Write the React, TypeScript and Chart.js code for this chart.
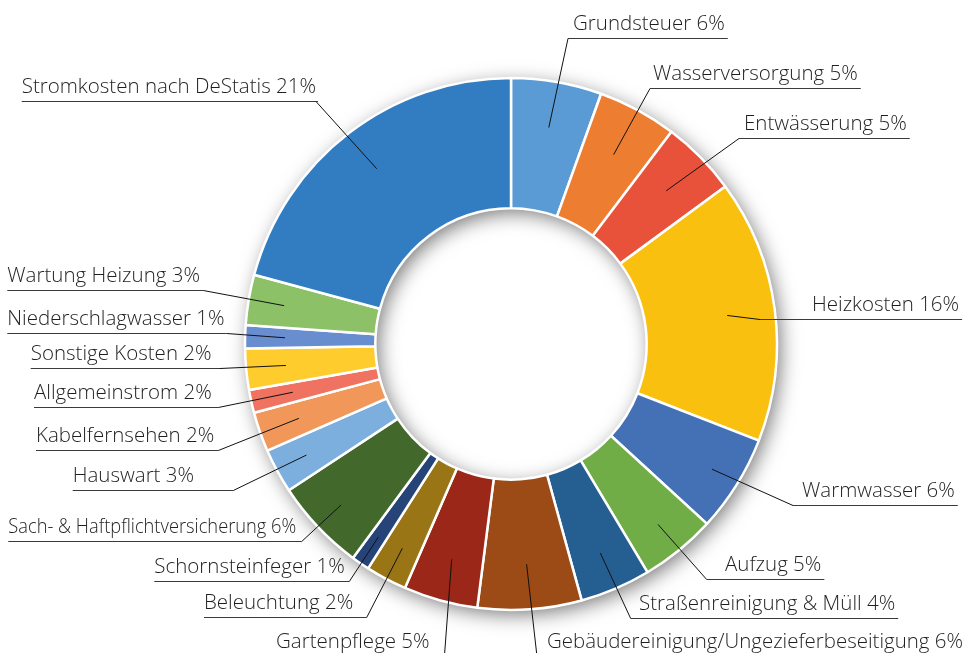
import React, { useEffect, useRef } from 'react';
import { Chart, registerables } from 'chart.js';

Chart.register(...registerables);

const categories = [
  'Grundsteuer',
  'Wasserversorgung',
  'Entwässerung',
  'Heizkosten',
  'Warmwasser',
  'Aufzug',
  'Straßenreinigung & Müll',
  'Gebäudereinigung/Ungezieferbeseitigung',
  'Gartenpflege',
  'Beleuchtung',
  'Schornsteinfeger',
  'Sach- & Haftpflichtversicherung',
  'Hauswart',
  'Kabelfernsehen',
  'Allgemeinstrom',
  'Sonstige Kosten',
  'Niederschlagwasser',
  'Wartung Heizung',
  'Stromkosten nach DeStatis',
];

const values = [5.5, 4.8, 4.6, 16.0, 5.9, 4.6, 4.3, 6.3, 4.5, 2.5, 1.1, 5.6, 2.7, 2.4, 1.4, 2.5, 1.4, 3.05, 20.8];

const percentLabels = ['6%', '5%', '5%', '16%', '6%', '5%', '4%', '6%', '5%', '2%', '1%', '6%', '3%', '2%', '2%', '2%', '1%', '3%', '21%'];

const colors = [
  '#5B9BD5', '#ED7D31', '#E9523A', '#FAC00F', '#4470B5', '#70AD47', '#255E91',
  '#9C4A16', '#9A2718', '#9A7516', '#264478', '#43682B', '#7CAFDD', '#F1975A',
  '#F07260', '#FFCC2E', '#698ED0', '#8CC168', '#327DC1',
];

// label layout: text left x, underline y, leader attach x, anchor radius fraction, max text width
const labelLayout = [
  [573, 38, 568, 0.826, 0],
  [653, 88.3, 650, 0.81, 0],
  [744, 138.3, 739, 0.82, 0],
  [812, 319.3, 760, 0.82, 0],
  [802, 505, 793, 0.89, 0],
  [725, 579.3, 706.7, 0.875, 0],
  [639, 618.3, 630.7, 0.855, 0],
  [547, 656, 537, 0.83, 416],
  [276, 656, 444.4, 0.84, 0],
  [204, 617.3, 366.7, 0.87, 0],
  [154.3, 580.7, 349.3, 0.88, 0],
  [8.3, 540.7, 301.7, 0.88, 288],
  [72.7, 490, 233.3, 0.875, 0],
  [36, 450, 218.3, 0.845, 0],
  [34, 406.7, 218.3, 0.84, 0],
  [30.7, 368.3, 220, 0.85, 0],
  [7.3, 333.3, 226.7, 0.85, 0],
  [7.3, 290, 203.3, 0.865, 0],
  [21.7, 100.7, 316, 0.83, 0],
];

const shadowPlugin = {
  id: 'ringShadow',
  beforeDatasetsDraw(chart: any) {
    const meta = chart.getDatasetMeta(0);
    const a = meta.data[0];
    if (!a) return;
    const { x, y, innerRadius, outerRadius } = a.getProps(['x', 'y', 'innerRadius', 'outerRadius'], true);
    const ctx = chart.ctx;
    ctx.save();
    ctx.shadowColor = 'rgba(0,0,0,0.55)';
    ctx.shadowBlur = 20;
    ctx.shadowOffsetX = 4;
    ctx.shadowOffsetY = 5;
    ctx.beginPath();
    ctx.arc(x, y, outerRadius - 1, 0, Math.PI * 2);
    ctx.arc(x, y, innerRadius + 1, Math.PI * 2, 0, true);
    ctx.closePath();
    ctx.fillStyle = '#ffffff';
    ctx.fill('evenodd');
    ctx.restore();
  },
};

const labelPlugin = {
  id: 'outerLabels',
  afterDatasetsDraw(chart: any) {
    const meta = chart.getDatasetMeta(0);
    const ctx = chart.ctx;
    ctx.save();
    ctx.font = '300 20.5px "Open Sans"';
    ctx.textBaseline = 'alphabetic';
    ctx.textAlign = 'left';
    meta.data.forEach((arc: any, i: number) => {
      const p = arc.getProps(['x', 'y', 'startAngle', 'endAngle', 'innerRadius', 'outerRadius'], true);
      const mid = (p.startAngle + p.endAngle) / 2;
      const [tx, ly, ax, rf, maxW] = labelLayout[i];
      const r = p.outerRadius * rf;
      const px = p.x + Math.cos(mid) * r;
      const py = p.y + Math.sin(mid) * r;
      const text = categories[i] + ' ' + percentLabels[i];
      let w = ctx.measureText(text).width;
      if (maxW && w > maxW) w = maxW;
      let x0: number;
      let x1: number;
      if (ax < tx) {
        x0 = ax;
        x1 = tx + w + 3;
      } else {
        x0 = tx;
        x1 = Math.max(ax, tx + w + 2);
      }
      const yy = Math.round(ly) + 0.5;
      ctx.strokeStyle = '#3a3a3a';
      ctx.lineWidth = 1;
      ctx.beginPath();
      ctx.moveTo(x0, yy);
      ctx.lineTo(x1, yy);
      ctx.stroke();
      ctx.strokeStyle = '#111111';
      ctx.beginPath();
      ctx.moveTo(ax, yy);
      ctx.lineTo(px, py);
      ctx.stroke();
      ctx.fillStyle = '#1f1f1f';
      if (maxW) ctx.fillText(text, tx, ly - 8, maxW);
      else ctx.fillText(text, tx, ly - 8);
    });
    ctx.restore();
  },
};

export default function App() {
  const ref = useRef<HTMLCanvasElement | null>(null);
  useEffect(() => {
    document.body.style.margin = '0';
    const canvas = ref.current;
    if (!canvas) return;
    const chart = new Chart(canvas, {
      type: 'doughnut',
      data: {
        labels: categories,
        datasets: [
          {
            data: values,
            backgroundColor: colors,
            borderColor: '#ffffff',
            borderWidth: 2.5,
          },
        ],
      },
      options: {
        responsive: false,
        animation: false,
        devicePixelRatio: 1,
        radius: 266,
        cutout: '51%',
        layout: { padding: { left: 245, right: 189, top: 78, bottom: 43 } },
        plugins: {
          legend: { display: false },
          tooltip: { enabled: false },
        },
      } as any,
      plugins: [shadowPlugin, labelPlugin],
    });
    return () => chart.destroy();
  }, []);
  return (
    <div style={{ width: 966, height: 653, background: '#ffffff' }}>
      <canvas ref={ref} width={966} height={653} style={{ display: 'block' }} />
    </div>
  );
}
